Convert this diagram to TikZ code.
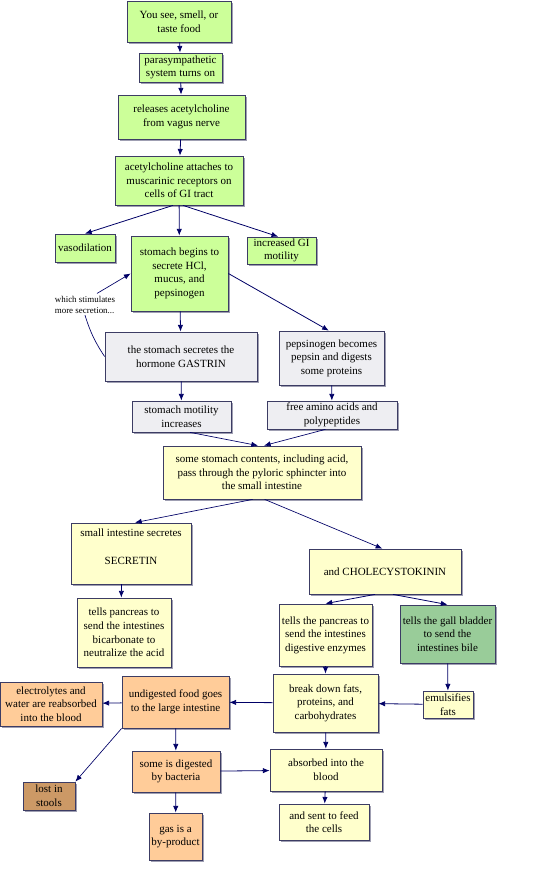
\documentclass[tikz,border=0pt]{standalone}
\usepackage{fontspec}
\setmainfont{Liberation Serif}
\usepackage{tikz}
\usetikzlibrary{arrows.meta, shadows}

\definecolor{lightgreen}{HTML}{CCFF99}
\definecolor{paleblue}{HTML}{EEEEF2}
\definecolor{paleyellow}{HTML}{FFFFCC}
\definecolor{peach}{HTML}{FFCC99}
\definecolor{tan}{HTML}{CC9966}
\definecolor{sage}{HTML}{99CC99}
\definecolor{boxedge}{HTML}{3C3C64}
\definecolor{navy}{HTML}{000066}

\begin{document}
\begin{tikzpicture}[
        x=0.75pt, y=-0.75pt,
        box/.style={rectangle, draw=boxedge, line width=0.6pt, align=center, inner sep=1pt,
            font=\fontsize{8.25}{10.2}\selectfont,
            drop shadow={shadow xshift=1.5pt, shadow yshift=-1.5pt, fill=boxedge!70, opacity=0.7}},
        green/.style={box, fill=lightgreen},
        grey/.style={box, fill=paleblue},
        yellow/.style={box, fill=paleyellow},
        orange/.style={box, fill=peach},
        arrow/.style={draw=navy, line width=0.6pt, ->, >={Latex[length=5pt, width=4pt]}}
    ]
    \useasboundingbox (0,0) rectangle (537,869);

    % --- Nodes ---
    \node[green, minimum width=78pt, minimum height=30.75pt] (food) at (179,21.5) {You see, smell, or\\taste food};
    \node[green, minimum width=62.25pt, minimum height=21.75pt] (para) at (180.5,67.5) {parasympathetic\\system turns on};
    \node[green, minimum width=95.25pt, minimum height=33pt] (release) at (181.5,117) {releases acetylcholine\\from vagus nerve};
    \node[green, minimum width=96pt, minimum height=36.75pt] (attach) at (179,180.5) {acetylcholine attaches to\\muscarinic receptors on\\cells of GI tract};

    \node[green, minimum width=45pt, minimum height=21pt] (vaso) at (85,248) {vasodilation};
    \node[green, minimum width=72.75pt, minimum height=56.25pt] (stomach) at (179.5,273.5) {stomach begins to\\secrete HCl,\\mucus, and\\pepsinogen};
    \node[green, minimum width=51.75pt, minimum height=20.25pt] (motgi) at (281.5,250.5) {increased GI\\motility};

    \node[font=\fontsize{6.7}{8.2}\selectfont, align=left, inner sep=0pt] (more) at (85,305) {which stimulates\\more secretion...};

    \node[grey, minimum width=114pt, minimum height=36.75pt] (gastrin) at (181,356.5) {the stomach secretes the\\hormone GASTRIN};
    \node[grey, minimum width=78.75pt, minimum height=40.5pt] (pepsin) at (331.5,358) {pepsinogen becomes\\pepsin and digests\\some proteins};
    \node[grey, minimum width=74.25pt, minimum height=23.25pt] (motst) at (181.5,416.5) {stomach motility\\increases};
    \node[grey, minimum width=97.5pt, minimum height=21pt] (amino) at (332,415) {free amino acids and\\polypeptides};

    \node[yellow, minimum width=148.5pt, minimum height=39.75pt] (pylorus) at (262,472.5) {some stomach contents, including acid,\\pass through the pyloric sphincter into\\the small intestine};
    \node[yellow, minimum width=90pt, minimum height=45.75pt] (secretin) at (131,553.5) {small intestine secretes\\\mbox{}\\SECRETIN\\\mbox{}};
    \node[yellow, minimum width=114pt, minimum height=33.75pt] (cck) at (385,571.5) {and CHOLECYSTOKININ};
    \node[yellow, minimum width=70.5pt, minimum height=51.75pt] (bicarb) at (124,632.5) {tells pancreas to\\send the intestines\\bicarbonate to\\neutralize the acid};
    \node[yellow, minimum width=69.75pt, minimum height=46.5pt] (enzyme) at (325.5,635) {tells the pancreas to\\send the intestines\\digestive enzymes};
    \node[box, fill=sage, minimum width=71.25pt, minimum height=43.5pt] (gall) at (447.5,634) {tells the gall bladder\\to send the\\intestines bile};

    \node[orange, minimum width=76.5pt, minimum height=33pt] (electro) at (51,704) {electrolytes and\\water are reabsorbed\\into the blood};
    \node[orange, minimum width=80.25pt, minimum height=39pt] (large) at (175.5,702) {undigested food goes\\to the large intestine};
    \node[yellow, minimum width=78.75pt, minimum height=43.5pt] (breakdown) at (325.5,703) {break down fats,\\proteins, and\\carbohydrates};
    \node[yellow, minimum width=37.5pt, minimum height=20.25pt] (emulsify) at (448,704.5) {emulsifies\\fats};

    \node[box, fill=tan, minimum width=39pt, minimum height=21pt] (stools) at (49,796) {lost in\\stools};
    \node[orange, minimum width=66pt, minimum height=30.75pt] (bacteria) at (176,771.5) {some is digested\\by bacteria};
    \node[yellow, minimum width=84pt, minimum height=31.5pt] (blood) at (326,770) {absorbed into the\\blood};
    \node[orange, minimum width=39.75pt, minimum height=35.25pt] (gas) at (175.5,836.5) {gas is a\\by-product};
    \node[yellow, minimum width=67.5pt, minimum height=27pt] (cells) at (324,822) {and sent to feed\\the cells};

    % --- Edges ---
    \draw[arrow] (food) -- (para);
    \draw[arrow] (para) -- (release);
    \draw[arrow] (release) -- (attach);
    \draw[arrow] ([xshift=-4.5pt]attach.south) -- (vaso.north);
    \draw[arrow] (attach) -- (stomach);
    \draw[arrow] ([xshift=3pt]attach.south) -- ([xshift=-2.5pt]motgi.north);
    \draw[arrow] (stomach) -- (gastrin);
    \draw[arrow] (stomach.east) -- ([xshift=-2pt]pepsin.north);

    % feedback loop round the label
    \draw[draw=navy, line width=0.5pt] (gastrin.west) to[bend left=8] ([yshift=-1pt]more.south);
    \draw[arrow, line width=0.5pt] ([xshift=9pt, yshift=2pt]more.north) -- (stomach.west);

    \draw[arrow] (gastrin) -- (motst);
    \draw[arrow] (pepsin) -- (amino);
    \draw[arrow, line width=0.5pt] ([xshift=6.5pt]motst.south) -- ([xshift=-3pt]pylorus.north);
    \draw[arrow, line width=0.5pt] ([xshift=-5pt]amino.south) -- ([xshift=1.5pt]pylorus.north);

    \draw[arrow, line width=0.5pt] ([xshift=-7pt]pylorus.south) -- ([xshift=3pt]secretin.north);
    \draw[arrow, line width=0.5pt] ([xshift=2pt]pylorus.south) -- ([xshift=-2pt]cck.north);
    \draw[arrow] ([xshift=-2pt]bicarb.north |- secretin.south) -- ([xshift=-2pt]bicarb.north);
    \draw[arrow] ([xshift=-7.5pt]cck.south) -- (enzyme.north);
    \draw[arrow] ([xshift=6pt]cck.south) -- (gall.north);

    \draw[arrow] (enzyme) -- (breakdown);
    \draw[arrow] (gall) -- (emulsify);
    \draw[arrow] (emulsify) -- (breakdown);
    \draw[arrow] (breakdown) -- (large);
    \draw[arrow] (large) -- (electro);
    \draw[arrow] (large) -- (bacteria);
    \draw[arrow, line width=0.5pt] (large.south west) -- (stools.north east);
    \draw[arrow] (bacteria) -- (blood);
    \draw[arrow] (bacteria) -- (gas);
    \draw[arrow] (breakdown) -- (blood);
    \draw[arrow] (blood) -- (cells);

\end{tikzpicture}
\end{document}
